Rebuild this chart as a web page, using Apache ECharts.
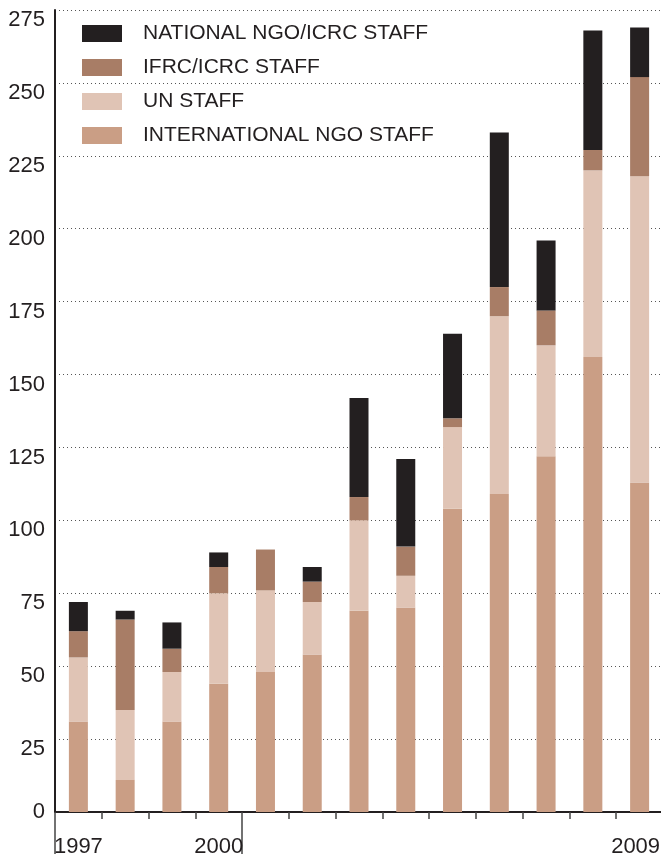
<!DOCTYPE html>
<html>
<head>
<meta charset="utf-8">
<script src="https://cdn.jsdelivr.net/npm/echarts@6/dist/echarts.min.js"></script>
<style>
  html, body { margin: 0; padding: 0; background: #fff; }
  #chart { width: 661px; height: 854px; }
</style>
</head>
<body>
<div id="chart"></div>
<script>
// years on the x axis and the ones that get a label
const years = ["1997", "1998", "1999", "2000", "2001", "2002", "2003", "2004", "2005", "2006", "2007", "2008", "2009"];
const labelledYears = ["1997", "2000", "2009"];

// staff counts, bottom of the stack first
const intlNgoStaff = [31, 11, 31, 44, 48, 54, 69, 70, 104, 109, 122, 156, 113];
const unStaff = [22, 24, 17, 31, 28, 18, 31, 11, 28, 61, 38, 64, 105];
const ifrcIcrcStaff = [9, 31, 8, 9, 14, 7, 8, 10, 3, 10, 12, 7, 34];
const nationalNgoStaff = [10, 3, 9, 5, 0, 5, 34, 30, 29, 53, 24, 41, 17];

const yMax = 275;
const yStep = 25;

const font = "'Liberation Sans', Arial, sans-serif";
const ink = "#231f20";

let myChart = echarts.init(document.getElementById("chart"));

function bar(name, data, color) {
  return {
    name: name,
    type: "bar",
    stack: "staff",
    barWidth: 19,
    xAxisIndex: 0,
    data: data,
    itemStyle: { color: color },
  };
}

function yearLabel(v) {
  if (!labelledYears.includes(v)) return "";
  // last one is pulled in a bit so it stays on the page
  return v === years[years.length - 1] ? "{last|" + v + "}" : "{y|" + v + "}";
}

let option = {
  animation: false,
  textStyle: { fontFamily: font },
  grid: { left: 55, top: 10, width: 608, bottom: 42, outerBoundsMode: "none", containLabel: false },
  legend: {
    orient: "vertical",
    left: 77,
    top: 18,
    itemWidth: 40,
    itemHeight: 17,
    itemGap: 13,
    icon: "rect",
    data: ["NATIONAL NGO/ICRC STAFF", "IFRC/ICRC STAFF", "UN STAFF", "INTERNATIONAL NGO STAFF"],
    textStyle: { fontSize: 21, color: ink, padding: [0, 0, 0, 16], fontFamily: font },
  },
  xAxis: [
    {
      type: "category",
      data: years,
      axisLine: { lineStyle: { color: ink, width: 2 } },
      axisTick: { show: true, length: 7, lineStyle: { color: "#444", width: 1.5 } },
      axisLabel: {
        interval: 0,
        margin: 24,
        color: ink,
        formatter: yearLabel,
        rich: {
          y: { fontSize: 22, color: ink, fontFamily: font },
          last: { fontSize: 22, color: ink, fontFamily: font, padding: [0, 8, 0, 0] },
        },
      },
    },
    {
      // long divider ticks under the axis
      type: "category",
      data: years,
      position: "bottom",
      axisLine: { show: false },
      axisLabel: { show: false },
      axisTick: {
        show: true,
        length: 45,
        interval: (i) => i === 0 || i === 4,
        lineStyle: { color: "#444", width: 1.5 },
      },
    },
  ],
  yAxis: {
    type: "value",
    min: 0,
    max: yMax,
    interval: yStep,
    axisLine: { show: true, lineStyle: { color: ink, width: 2 } },
    axisTick: { show: false },
    axisLabel: {
      color: ink,
      margin: 10,
      // labels sit just under their gridline, except the zero
      formatter: (v) => (v === 0 ? "{z|0}" : "{n|" + v + "}"),
      rich: {
        n: { fontSize: 22, color: ink, fontFamily: font, padding: [20, 0, 0, 0] },
        z: { fontSize: 22, color: ink, fontFamily: font },
      },
    },
    splitLine: { lineStyle: { color: "#555", width: 1, type: [1, 3] } },
  },
  series: [
    bar("INTERNATIONAL NGO STAFF", intlNgoStaff, "#ca9e85"),
    bar("UN STAFF", unStaff, "#e0c4b5"),
    bar("IFRC/ICRC STAFF", ifrcIcrcStaff, "#a87d66"),
    bar("NATIONAL NGO/ICRC STAFF", nationalNgoStaff, "#231f20"),
  ],
};

myChart.setOption(option);
</script>
</body>
</html>
